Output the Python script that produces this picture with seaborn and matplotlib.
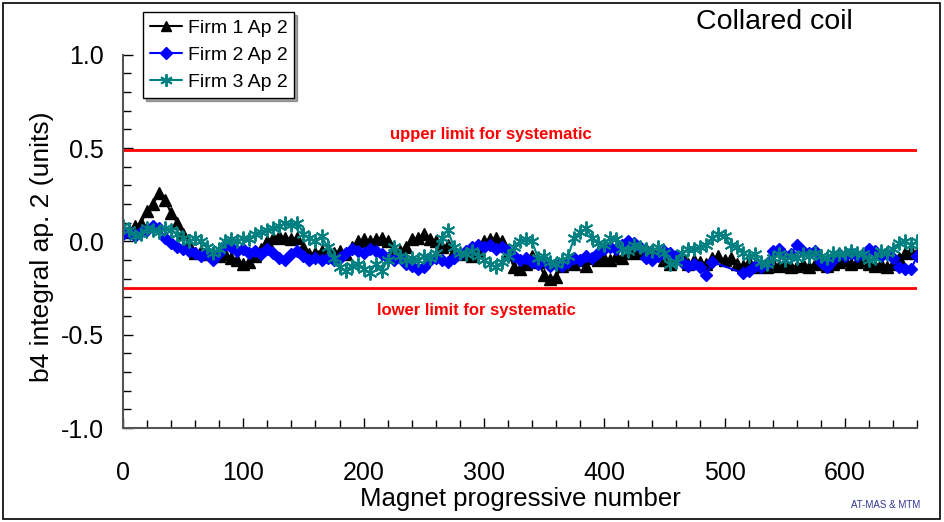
import numpy as np
import pandas as pd
import matplotlib
matplotlib.use("Agg")
import matplotlib.pyplot as plt
from matplotlib.lines import Line2D
from matplotlib.patches import Rectangle
from matplotlib.ticker import FixedLocator, FormatStrFormatter
import seaborn as sns

# ---------------- data ----------------
series_names = ["Firm 1 Ap 2", "Firm 2 Ap 2", "Firm 3 Ap 2"]
series_colors = ["#000000", "#0000FF", "#008080"]

firm1_x = list(range(0, 661, 5))
firm1_y = [0.05, 0.06, 0.08, 0.10, 0.16, 0.20, 0.26, 0.22, 0.15, 0.10,
           0.04, -0.02, -0.06, -0.05, -0.07, -0.06, -0.08, -0.07, -0.09, -0.10,
           -0.12, -0.11, -0.08, -0.04, 0.00, 0.02, 0.03, 0.02, 0.01, 0.02,
           -0.03, -0.07, -0.06, -0.05, -0.04, -0.06, -0.05, -0.07, -0.03, 0.00,
           0.01, 0.00, 0.01, 0.02, 0.00, -0.04, -0.05, -0.03, 0.01, 0.02,
           0.04, 0.01, 0.00, -0.03, -0.02, -0.05, -0.07, -0.06, -0.08, -0.05,
           0.00, 0.01, 0.02, 0.00, -0.06, -0.14, -0.15, -0.12, -0.08, -0.11,
           -0.18, -0.20, -0.19, -0.13, -0.11, -0.12, -0.10, -0.13, -0.09, -0.10,
           -0.09, -0.10, -0.08, -0.09, -0.06, -0.05, -0.06, -0.04, -0.05, -0.07,
           -0.10, -0.12, -0.09, -0.08, -0.12, -0.10, -0.11, -0.12, -0.09, -0.08,
           -0.10, -0.09, -0.12, -0.13, -0.11, -0.14, -0.13, -0.14, -0.12, -0.13,
           -0.12, -0.14, -0.13, -0.12, -0.14, -0.12, -0.11, -0.13, -0.12, -0.11,
           -0.10, -0.12, -0.11, -0.10, -0.12, -0.13, -0.12, -0.14, -0.12, -0.09,
           -0.06, -0.05, -0.06]

firm2_x = list(range(0, 491, 5)) + list(range(515, 661, 5))
firm2_y = [0.04, 0.05, 0.03, 0.05, 0.06, 0.08, 0.07, 0.02, -0.01, -0.03,
           -0.04, -0.05, -0.06, -0.08, -0.07, -0.10, -0.06, -0.02, -0.03, -0.05,
           -0.04, -0.06, -0.05, -0.07, -0.04, -0.06, -0.09, -0.10, -0.07, -0.05,
           -0.08, -0.10, -0.09, -0.10, -0.09, -0.10, -0.09, -0.06, -0.04, -0.05,
           -0.06, -0.04, -0.05, -0.07, -0.09, -0.10, -0.09, -0.12, -0.13, -0.15,
           -0.14, -0.10, -0.09, -0.10, -0.11, -0.09, -0.07, -0.05, -0.03, -0.02,
           -0.03, -0.02, -0.04, -0.03, -0.05, -0.08, -0.10, -0.09, -0.11, -0.12,
           -0.10, -0.13, -0.12, -0.13, -0.11, -0.09, -0.10, -0.08, -0.09, -0.06,
           -0.04, -0.03, -0.04, -0.02, 0.00, -0.01, -0.03, -0.09, -0.10, -0.08,
           -0.05, -0.06, -0.08, -0.11, -0.13, -0.12, -0.14, -0.18, -0.11,
           -0.17, -0.16, -0.13, -0.14, -0.12, -0.05, -0.04, -0.08, -0.07, -0.02,
           -0.05, -0.06, -0.05, -0.11, -0.14, -0.10, -0.07, -0.08, -0.06, -0.08,
           -0.07, -0.04, -0.05, -0.08, -0.07, -0.09, -0.14, -0.15, -0.15, -0.08]

firm3_x = list(range(0, 661, 5))
firm3_y = [0.08, 0.06, 0.03, 0.04, 0.07, 0.06, 0.05, 0.07, 0.06, 0.04,
           0.02, 0.00, 0.02, 0.00, -0.03, -0.06, -0.04, 0.00, 0.01, 0.00,
           0.02, 0.01, 0.04, 0.05, 0.06, 0.07, 0.08, 0.10, 0.09, 0.10,
           0.04, 0.02, 0.00, 0.03, -0.03, -0.09, -0.14, -0.16, -0.13, -0.12,
           -0.15, -0.17, -0.12, -0.16, -0.10, -0.03, -0.08, -0.10, -0.09, -0.10,
           -0.08, -0.09, -0.06, 0.02, 0.06, -0.03, -0.06, -0.07, -0.05, -0.08,
           -0.10, -0.12, -0.14, -0.11, -0.08, -0.03, 0.00, 0.01, 0.00, -0.09,
           -0.08, -0.11, -0.12, -0.10, -0.08, 0.02, 0.05, 0.07, 0.02, -0.01,
           -0.02, 0.02, 0.01, -0.04, -0.05, -0.02, -0.03, -0.04, -0.05, -0.03,
           -0.06, -0.12, -0.11, -0.06, -0.04, -0.04, -0.03, -0.02, 0.02, 0.04,
           0.03, -0.02, -0.03, -0.06, -0.08, -0.07, -0.11, -0.12, -0.09, -0.07,
           -0.10, -0.08, -0.09, -0.07, -0.08, -0.06, -0.08, -0.09, -0.06, -0.07,
           -0.06, -0.05, -0.06, -0.07, -0.10, -0.09, -0.05, -0.06, -0.04, -0.01,
           0.00, -0.02, 0.00]

upper_limit = 0.49
lower_limit = -0.25
x_ticks = [0, 100, 200, 300, 400, 500, 600]
y_ticks = [-1.0, -0.5, 0.0, 0.5, 1.0]

assert len(firm1_x) == len(firm1_y)
assert len(firm2_x) == len(firm2_y)
assert len(firm3_x) == len(firm3_y)

df = pd.concat([
    pd.DataFrame({"x": firm1_x, "y": firm1_y, "series": series_names[0]}),
    pd.DataFrame({"x": firm2_x, "y": firm2_y, "series": series_names[1]}),
    pd.DataFrame({"x": firm3_x, "y": firm3_y, "series": series_names[2]}),
], ignore_index=True)

# ---------------- style ----------------
sns.set_style("white")
plt.rcParams["font.family"] = ["Liberation Sans", "DejaVu Sans"]
plt.rcParams["axes.unicode_minus"] = False
for k in ["text.color", "axes.labelcolor", "xtick.color", "ytick.color"]:
    plt.rcParams[k] = "black"

W, H = 945, 522
fig = plt.figure(figsize=(W / 100, H / 100), dpi=100)
ax_left, ax_right, ax_top, ax_bottom = 123, 917, 8, 428
ax = fig.add_axes([ax_left / W, (H - ax_bottom) / H,
                   (ax_right - ax_left) / W, (ax_bottom - ax_top) / H])

palette = dict(zip(series_names, series_colors))
seaborn_markers = {series_names[0]: "^", series_names[1]: "D", series_names[2]: "X"}
final_markers = ["^", "D", (6, 2, 0)]
sns.lineplot(data=df, x="x", y="y", hue="series", style="series",
             hue_order=series_names, style_order=series_names,
             palette=palette, markers=seaborn_markers, dashes=False,
             errorbar=None, sort=False, estimator=None, legend=False,
             linewidth=1.5, ax=ax)

msizes = [8.5, 6.5, 10]
mews = [1.0, 1.0, 1.4]
for line, col, ms, mk, mw in zip(ax.lines, series_colors, msizes, final_markers, mews):
    line.set_marker(mk)
    line.set_markeredgecolor(col)
    line.set_markerfacecolor(col)
    line.set_markersize(ms)
    line.set_markeredgewidth(mw)

ax.axhline(upper_limit, color="#FF0000", lw=2, zorder=1)
ax.axhline(lower_limit, color="#FF0000", lw=2, zorder=1)
ax.text(306, 0.57, "upper limit for systematic", color="#FF0000",
        fontsize=12, fontweight="bold", ha="center", va="center")
ax.text(294, -0.37, "lower limit for systematic", color="#FF0000",
        fontsize=12, fontweight="bold", ha="center", va="center")

ax.set_xlim(0, 660)
ax.set_ylim(-1.0, 1.25)
ax.xaxis.set_major_locator(FixedLocator(x_ticks))
ax.xaxis.set_minor_locator(FixedLocator(list(range(0, 661, 20))))
ax.yaxis.set_major_locator(FixedLocator(y_ticks))
ax.yaxis.set_minor_locator(FixedLocator([round(v, 1) for v in np.arange(-1.0, 1.01, 0.1)]))
ax.yaxis.set_major_formatter(FormatStrFormatter("%.1f"))
ax.tick_params(axis="both", which="both", direction="in", color="black",
               labelcolor="black", labelsize=18, width=1,
               bottom=True, left=True, top=False, right=False)
ax.tick_params(axis="both", which="major", length=7)
ax.tick_params(axis="both", which="minor", length=6)
ax.tick_params(axis="x", which="major", pad=24)
ax.tick_params(axis="y", which="major", pad=14)

for s in ["top", "right"]:
    ax.spines[s].set_visible(False)
ax.spines["left"].set_bounds(-1.0, 1.0)
for s in ["left", "bottom"]:
    ax.spines[s].set_color("#555555")
    ax.spines[s].set_linewidth(1.5)

ax.set_xlabel("Magnet progressive number", fontsize=18.5)
ax.set_ylabel("b4 integral ap. 2 (units)", fontsize=19)
ax.xaxis.set_label_coords(0.501, -0.14)
ax.yaxis.set_label_coords(-0.087, 0.431)

handles = [Line2D([], [], color=c, marker=m, markersize=ms * 0.9, markeredgecolor=c,
                  markerfacecolor=c, lw=1.5, markeredgewidth=mw)
           for c, m, ms, mw in zip(series_colors, final_markers, msizes, mews)]
leg = ax.legend(handles, series_names, loc="upper left",
                bbox_to_anchor=(0.025, 0.99), borderaxespad=0,
                fontsize=14, frameon=True, fancybox=False, shadow=True,
                framealpha=1, edgecolor="black", handlelength=1.65,
                handletextpad=0.3, borderpad=0.35, labelspacing=0.5)
leg.get_frame().set_linewidth(1)
for t in leg.get_texts():
    t.set_color("black")

fig.text(774 / W, 1 - 22 / H, "Collared coil", fontsize=20.5,
         ha="center", va="center")
fig.text(920 / W, 1 - 505 / H, "AT-MAS & MTM", fontsize=7,
         color="#333399", ha="right", va="center")

fig.patches.append(Rectangle((3 / W, 3 / H), 937 / W, 516 / H,
                             transform=fig.transFigure, fill=False,
                             edgecolor="black", lw=1.2))

fig.savefig("out.png", dpi=100)
